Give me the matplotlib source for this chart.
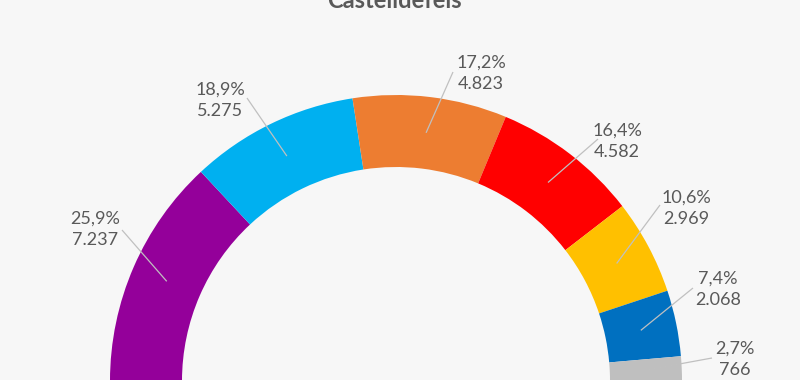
import numpy as np
import matplotlib.pyplot as plt

plt.rcParams['font.family'] = ['Lato', 'DejaVu Sans']

title = "Castelldefels"
votes = [7237, 5275, 4823, 4582, 2969, 2068, 766]
pct = ["25,9%", "18,9%", "17,2%", "16,4%", "10,6%", "7,4%", "2,7%"]
vote_txt = ["7.237", "5.275", "4.823", "4.582", "2.969", "2.068", "766"]
colors = ["#94009a", "#00b0f0", "#ed7d31", "#ff0000", "#ffc000", "#0070c0", "#bfbfbf"]

# layout (pixels, origin bottom-left)
cx, cy = 396, -1
r_out, ring = 286, 72
label_pos = [(95, 151), (220, 280), (481, 307), (617, 239), (686, 172), (718, 91), (735, 21)]
line_start = [(122, 150), (247, 282), (453, 308), (598, 241), (660, 175), (693, 92), (712, 22)]

bg = "#f7f7f7"
fig = plt.figure(figsize=(8, 3.8), dpi=100, facecolor=bg)
ax = fig.add_axes([0, 0, 1, 1])
ax.set_facecolor(bg)

total = sum(votes)
wedges, _ = ax.pie(votes + [total], colors=colors + ["none"], startangle=180,
                   counterclock=False, radius=r_out, center=(cx, cy),
                   wedgeprops=dict(width=ring, linewidth=0))
ax.set_xlim(0, 800)
ax.set_ylim(0, 380)
ax.set_aspect("equal")
ax.axis("off")

# leader lines to the middle of each ring segment
r_mid = r_out - ring / 2
for i, w in enumerate(wedges[:-1]):
    ang = np.deg2rad((w.theta1 + w.theta2) / 2)
    ex, ey = cx + r_mid * np.cos(ang), cy + r_mid * np.sin(ang)
    sx, sy = line_start[i]
    ax.plot([sx, ex], [sy, ey], color="#c0c0c0", lw=0.9, solid_capstyle="butt")
    tx, ty = label_pos[i]
    ax.text(tx, ty, pct[i] + "\n" + vote_txt[i], ha="center", va="center",
            fontsize=13, color="#595959", linespacing=1.4)

ax.text(394, 372, title, ha="center", va="baseline", fontsize=17,
        fontweight="bold", color="#595959")

fig.savefig("out.png", dpi=100, facecolor=bg)
